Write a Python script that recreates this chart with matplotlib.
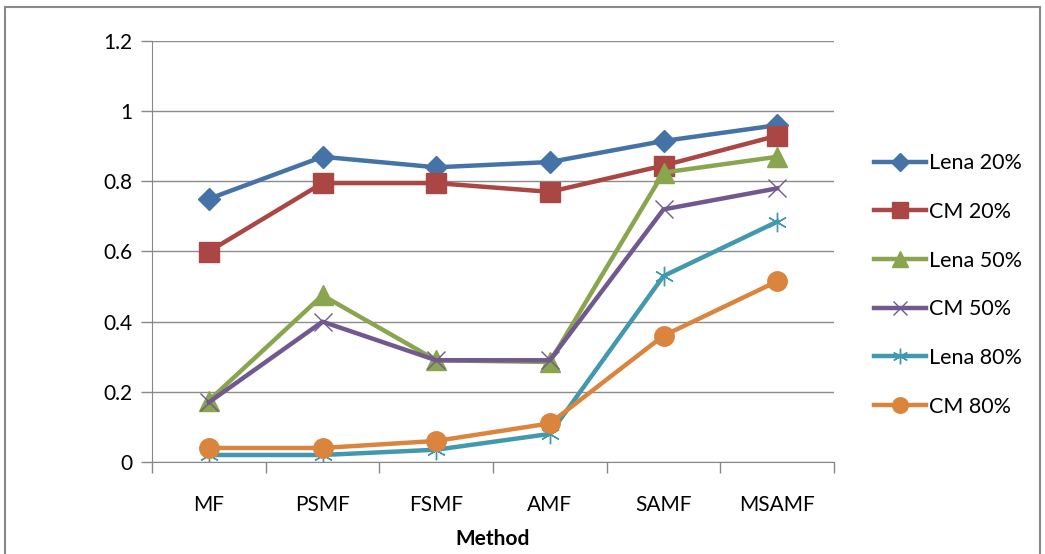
import matplotlib.pyplot as plt
import numpy as np
from matplotlib.patches import Rectangle

methods = ['MF', 'PSMF', 'FSMF', 'AMF', 'SAMF', 'MSAMF']
lena20 = [0.75, 0.87, 0.84, 0.855, 0.915, 0.96]
cm20 = [0.60, 0.795, 0.795, 0.77, 0.845, 0.93]
lena50 = [0.175, 0.475, 0.29, 0.285, 0.825, 0.87]
cm50 = [0.17, 0.40, 0.29, 0.29, 0.72, 0.78]
lena80 = [0.02, 0.02, 0.035, 0.08, 0.53, 0.685]
cm80 = [0.04, 0.04, 0.06, 0.11, 0.36, 0.515]

plt.rcParams['font.family'] = ['Lato', 'DejaVu Sans']

fig = plt.figure(figsize=(10.45, 5.54), dpi=100)
ax = fig.add_axes([152/1045, 1 - 462/554, (834-152)/1045, (462-41)/554])

x = np.arange(len(methods))
series = [
    ('Lena 20%', lena20, '#4572A7', 'D', 11, dict()),
    ('CM 20%', cm20, '#AA4643', 's', 15, dict()),
    ('Lena 50%', lena50, '#89A54E', '^', 15, dict()),
    ('CM 50%', cm50, '#71588F', 'x', 13, dict(markeredgewidth=1)),
    ('Lena 80%', lena80, '#4198AF', (6, 2, 0), 14, dict(markeredgewidth=1)),
    ('CM 80%', cm80, '#DB843D', 'o', 14, dict()),
]
for lab, vals, col, mk, ms, kw in series:
    ax.plot(x, vals, color=col, lw=3.2, marker=mk, markersize=ms,
            markeredgecolor=col, label=lab, **kw)

ax.set_xlim(-0.5, 5.5)
ax.set_ylim(0, 1.2)
ax.set_yticks(np.arange(0, 1.21, 0.2))
ax.set_yticklabels(['0', '0.2', '0.4', '0.6', '0.8', '1', '1.2'])
ax.set_xticks(x)
ax.set_xticklabels(methods)
ax.set_xticks(np.arange(-0.5, 5.6, 1), minor=True)
ax.tick_params(axis='x', which='major', length=0, pad=24, labelsize=15)
ax.tick_params(axis='x', which='minor', length=8, color='#888888', width=1)
ax.tick_params(axis='y', length=8, color='#888888', width=1, labelsize=15, pad=6)
ax.yaxis.grid(True, color='#8c8c8c', lw=1)
ax.set_axisbelow(True)
for s in ['top', 'right']:
    ax.spines[s].set_visible(False)
for s in ['left', 'bottom']:
    ax.spines[s].set_color('#888888')
ax.set_xlabel('Method', fontsize=15, fontweight='bold', labelpad=10)

ax.legend(loc='upper left', bbox_to_anchor=(855/1045, 1 - 134/554),
          bbox_transform=fig.transFigure, frameon=False, fontsize=15.5,
          handlelength=2.4, handletextpad=0.15, labelspacing=1.33,
          markerscale=0.8)

fig.patches.append(Rectangle((5/1045, -0.05), 1035/1045, 1 - 7/554 + 0.05,
                             transform=fig.transFigure, fill=False,
                             edgecolor='#888888', lw=1.5))

plt.savefig('out.png', dpi=100)
